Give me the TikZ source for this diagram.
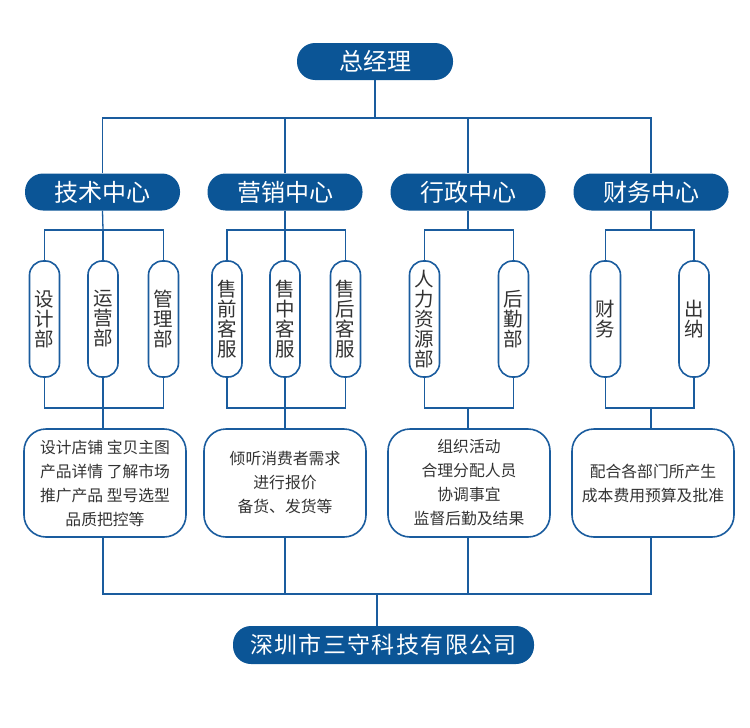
\documentclass[tikz,border=0pt]{standalone}
\usepackage{fontspec}
\setmainfont{Noto Sans CJK SC}
\usetikzlibrary{positioning}
\definecolor{navy}{HTML}{0B5596}
\definecolor{wire}{HTML}{1A5C9E}
\definecolor{ink}{HTML}{333333}
\tikzset{
  head/.style ={fill=navy, text=white, rounded corners=18pt, minimum height=37pt, inner sep=0pt, font=\fontsize{24}{25}\selectfont},
  pill/.style ={draw=wire, line width=1.6pt, fill=white, rounded corners=14pt, minimum width=30pt, minimum height=116pt, inner sep=0pt, align=center, text=ink, font=\fontsize{19.5}{20}\selectfont},
  duty/.style ={draw=wire, line width=1.6pt, fill=white, rounded corners=22pt, minimum width=162pt, minimum height=108pt, inner sep=0pt, align=center, text=ink, font=\fontsize{15.8}{24}\selectfont},
  ln/.style   ={draw=wire, line width=1.3pt},
}

\begin{document}
\begin{tikzpicture}[x=1pt,y=-1pt]
    \useasboundingbox (0,0) rectangle (750,728);
    % top
    \node[head,minimum width=156pt] (gm) at (375,61.5) {总经理};
    \node[head,minimum width=155pt] (c1) at (102.5,192) {技术中心};
    \node[head,minimum width=155pt] (c2) at (285,192) {营销中心};
    \node[head,minimum width=155pt] (c3) at (468,192) {行政中心};
    \node[head,minimum width=155pt] (c4) at (651,192) {财务中心};
    \coordinate (hub) at (375,118);
    \draw[ln] (gm.south) -- (hub);
    \draw[ln] (c1.north) |- (hub) -| (c4.north);
    \draw[ln] (c2.north) -- (c2.north |- hub);
    \draw[ln] (c3.north) -- (c3.north |- hub);
    % departments
    \node[pill] (p1a) at (44.5,319) {设\\计\\部};
    \node[pill] (p1b) at (103,319) {运\\营\\部};
    \node[pill] (p1c) at (163.5,319) {管\\理\\部};
    \node[pill] (p2a) at (227,319) {售\\前\\客\\服};
    \node[pill] (p2b) at (285,319) {售\\中\\客\\服};
    \node[pill] (p2c) at (345.5,319) {售\\后\\客\\服};
    \node[pill] (p3a) at (424.5,319) {人\\力\\资\\源\\部};
    \node[pill] (p3b) at (513.5,319) {后\\勤\\部};
    \node[pill] (p4a) at (605.5,319) {财\\务};
    \node[pill] (p4b) at (694,319) {出\\纳};
    \coordinate (t1) at (103,230);   \coordinate (b1) at (103,408);
    \coordinate (t2) at (285,230);   \coordinate (b2) at (285,408);
    \coordinate (t3) at (468,230);   \coordinate (b3) at (468,408);
    \coordinate (t4) at (651,230);   \coordinate (b4) at (651,408);
    \draw[ln] (c1.south) -- (t1);
    \draw[ln] (p1a.north) |- (t1) -| (p1c.north);
    \draw[ln] (p1b.north) -- (p1b.north |- t1);
    \draw[ln] (p1a.south) |- (b1) -| (p1c.south);
    \draw[ln] (p1b.south) -- (p1b.south |- b1);
    \draw[ln] (c2.south) -- (t2);
    \draw[ln] (p2a.north) |- (t2) -| (p2c.north);
    \draw[ln] (p2b.north) -- (p2b.north |- t2);
    \draw[ln] (p2a.south) |- (b2) -| (p2c.south);
    \draw[ln] (p2b.south) -- (p2b.south |- b2);
    \draw[ln] (c3.south) -- (t3);
    \draw[ln] (p3a.north) |- (t3) -| (p3b.north);
    \draw[ln] (p3a.south) |- (b3) -| (p3b.south);
    \draw[ln] (c4.south) -- (t4);
    \draw[ln] (p4a.north) |- (t4) -| (p4b.north);
    \draw[ln] (p4a.south) |- (b4) -| (p4b.south);
    % duties
    \node[duty] (d1) at (105,483) {设计店铺 宝贝主图\\产品详情 了解市场\\推广产品 型号选型\\品质把控等};
    \node[duty] (d2) at (285,483) {倾听消费者需求\\进行报价\\备货、发货等};
    \node[duty] (d3) at (469,483) {组织活动\\合理分配人员\\协调事宜\\监督后勤及结果};
    \node[duty] (d4) at (653,483) {配合各部门所产生\\成本费用预算及批准};
    \draw[ln] (b1) -- (b1 |- d1.north);
    \draw[ln] (b2) -- (b2 |- d2.north);
    \draw[ln] (b3) -- (b3 |- d3.north);
    \draw[ln] (b4) -- (b4 |- d4.north);
    % company
    \node[head,minimum width=301pt,minimum height=38pt,font=\fontsize{23}{24}\selectfont\addfontfeature{LetterSpace=6}] (co) at (383.5,645) {深圳市三守科技有限公司};
    \coordinate (base) at (377,594);
    \draw[ln] (d1.south -| b1) |- (base) -| (d4.south -| b4);
    \draw[ln] (d2.south -| b2) -- (b2 |- base);
    \draw[ln] (d3.south -| b3) -- (b3 |- base);
    \draw[ln] (base) -- (base |- co.north);
\end{tikzpicture}
\end{document}
